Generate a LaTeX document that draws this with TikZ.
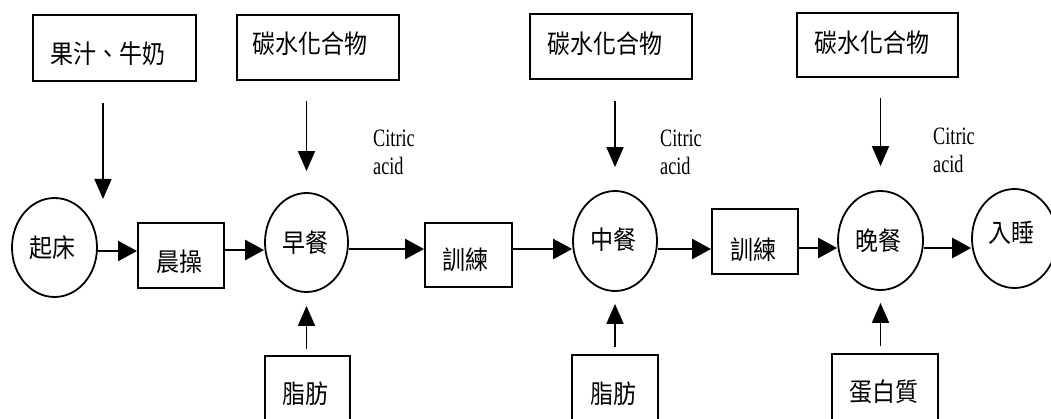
\documentclass[tikz,border=0pt]{standalone}
\usepackage{fontspec}
\setmainfont{Liberation Serif}
\newfontfamily\cjk{Noto Sans CJK TC}
\usetikzlibrary{arrows.meta,shapes.geometric}
\newcommand{\offtxt}[3]{\raisebox{#2}[0.88em][0.12em]{\hspace*{#1}\scalebox{1}[1.12]{#3}\hspace*{-#1}}}
\newcommand{\citac}{\scalebox{0.73}[1]{\begin{tabular}[t]{@{}l@{}}Citric\\acid\end{tabular}}}
\tikzset{
  box/.style={draw, line width=2pt, inner sep=0pt, font=\cjk\fontsize{23}{23}\selectfont},
  oval/.style={ellipse, draw, line width=1.8pt, inner sep=0pt, font=\cjk\fontsize{23}{23}\selectfont},
  harr/.style={-{Triangle[length=19pt,width=20pt]}, line width=2.6pt},
  varr/.style={-{Triangle[length=20pt,width=17pt]}, line width=1.7pt},
  lab/.style={anchor=base west, inner sep=0pt, font=\fontsize{25}{28}\selectfont}
}
\begin{document}
\begin{tikzpicture}[x=1pt,y=-1pt]
\clip (0,0) rectangle (1051,419);
\fill[white] (0,0) rectangle (1051,419);
% top boxes
\node[box, minimum width=163pt, minimum height=66pt] (juice) at (114.5,48) {\offtxt{-7pt}{-7pt}{果汁、牛奶}};
\node[box, minimum width=162pt, minimum height=65pt] (carb1) at (318,47.5) {\offtxt{-8pt}{3pt}{碳水化合物}};
\node[box, minimum width=162pt, minimum height=65pt] (carb2) at (611,46.5) {\offtxt{-6pt}{2pt}{碳水化合物}};
\node[box, minimum width=161pt, minimum height=64pt] (carb3) at (877.5,45) {\offtxt{-6pt}{1.5pt}{碳水化合物}};
% main row
\node[oval, minimum width=85pt, minimum height=99pt] (wake) at (54.5,247.5) {\offtxt{-2pt}{-1pt}{起床}};
\node[box, minimum width=86pt, minimum height=65pt] (mex) at (181,255.5) {\offtxt{-2pt}{-7.5pt}{晨操}};
\node[oval, minimum width=83pt, minimum height=99pt] (bfast) at (306.5,242.5) {\offtxt{-1.5pt}{-1pt}{早餐}};
\node[box, minimum width=87pt, minimum height=64pt] (tr1) at (468.5,255) {\offtxt{-3.5pt}{-6pt}{訓練}};
\node[oval, minimum width=84pt, minimum height=100pt] (lunch) at (615,241) {\offtxt{-1.5pt}{0pt}{中餐}};
\node[box, minimum width=86pt, minimum height=65pt] (tr2) at (755,241.5) {\offtxt{-2pt}{-9.5pt}{訓練}};
\node[oval, minimum width=85pt, minimum height=99pt] (dinner) at (880.5,240.5) {\offtxt{-2pt}{-1pt}{晚餐}};
\node[oval, minimum width=85pt, minimum height=99pt] (sleep) at (1014.5,238.5) {\offtxt{-3.5pt}{4.5pt}{入睡}};
% bottom boxes
\node[box, minimum width=85pt, minimum height=66pt] (fat1) at (307.5,389) {\offtxt{-2.5pt}{-5.5pt}{脂肪}};
\node[box, minimum width=86pt, minimum height=67pt] (fat2) at (615,388.5) {\offtxt{-1.5pt}{-6pt}{脂肪}};
\node[box, minimum width=106pt, minimum height=68pt] (prot) at (885,388) {\offtxt{-1.5pt}{-4.5pt}{蛋白質}};
% labels
\node[lab] (ca1) at (373,147) {\citac};
\node[lab] (ca2) at (660,147) {\citac};
\node[lab] (ca3) at (933,145) {\citac};
% horizontal connectors
\coordinate (ya) at (0,251);
\coordinate (yb) at (0,250);
\coordinate (yc) at (0,249);
\coordinate (yd) at (0,248);
\draw[harr] (wake.east |- ya) -- (mex.west |- ya);
\draw[harr] (mex.east |- yb) -- (bfast.west |- yb);
\draw[harr] (bfast.east |- yc) -- (tr1.west |- yc);
\draw[harr] (tr1.east |- yc) -- (lunch.west |- yc);
\draw[harr] (lunch.east |- yc) -- (tr2.west |- yc);
\draw[harr] (tr2.east |- yd) -- (dinner.west |- yd);
\draw[harr] (dinner.east |- yd) -- (sleep.west |- yd);
% vertical connectors
\coordinate (t0) at (103,199);
\draw[varr, shorten <=21pt] (juice.south -| t0) -- (t0);
\draw[varr, shorten <=20pt, shorten >=21pt] (carb1.south -| bfast.north) -- (bfast.north);
\draw[varr, shorten <=21pt, shorten >=23pt] (carb2.south -| lunch.north) -- (lunch.north);
\draw[varr, shorten <=20pt, shorten >=24pt] (carb3.south -| dinner.north) -- (dinner.north);
\draw[varr, shorten <=6pt, shorten >=13pt] (fat1.north -| bfast.south) -- (bfast.south);
\draw[varr, shorten <=7pt, shorten >=12pt] (fat2.north -| lunch.south) -- (lunch.south);
\draw[varr, shorten <=7pt, shorten >=12pt] (prot.north -| dinner.south) -- (dinner.south);
\end{tikzpicture}
\end{document}
